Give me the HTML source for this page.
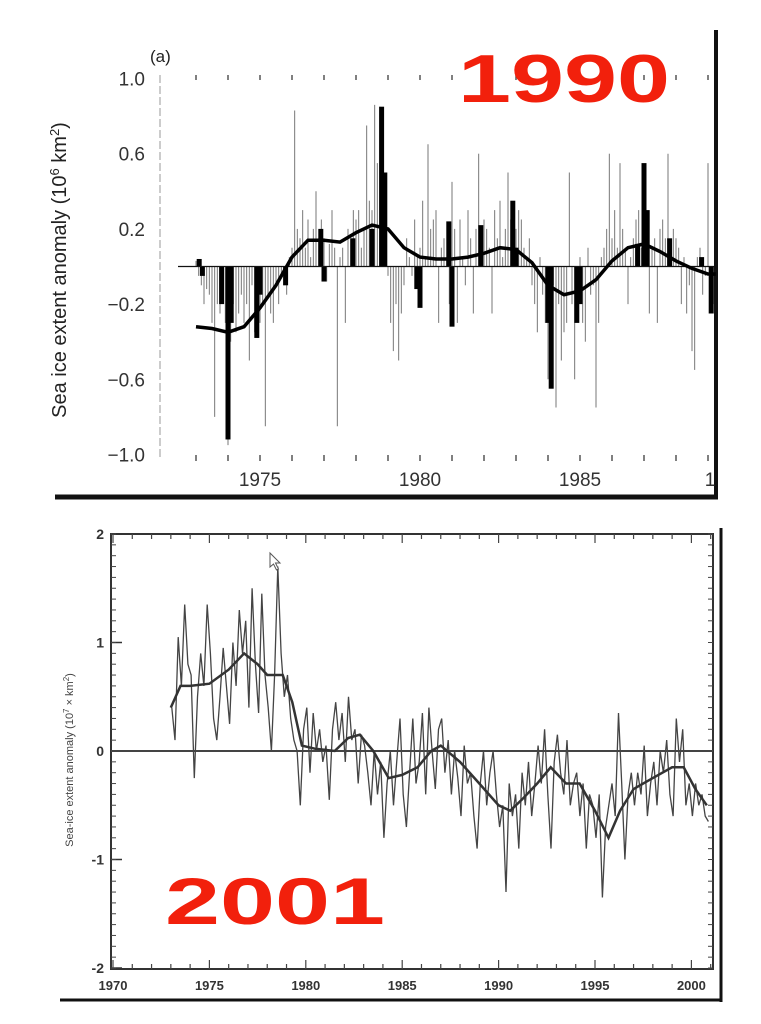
<!DOCTYPE html>
<html><head><meta charset="utf-8"><style>
body{margin:0;background:#fff}
svg{display:block}
text{font-family:"Liberation Sans",sans-serif}
</style></head><body>
<svg id="s" width="761" height="1024" viewBox="0 0 761 1024">
<rect x="0" y="0" width="761" height="1024" fill="#fff"/>
<line x1="716" y1="30" x2="716" y2="498" stroke="#111" stroke-width="4"/>
<line x1="55" y1="497" x2="718" y2="497" stroke="#111" stroke-width="5"/>
<line x1="160" y1="75" x2="160" y2="460" stroke="#999" stroke-width="1" stroke-dasharray="8,3"/>
<text x="150" y="62" font-size="17" fill="#222">(a)</text>
<text x="66" y="270" font-size="20" fill="#222" text-anchor="middle" transform="rotate(-90 66 270)">Sea ice extent anomaly (10<tspan dy="-7" font-size="13">6</tspan><tspan dy="7"> km</tspan><tspan dy="-7" font-size="13">2</tspan><tspan dy="7">)</tspan></text>
<g id="topTicks"></g>
<g id="topBars"></g>
<line x1="178" y1="266.5" x2="716" y2="266.5" stroke="#111" stroke-width="1.2"/>
<path id="topSmooth" fill="none" stroke="#000" stroke-width="3.5"/>
<text x="458" y="102" font-family="Liberation Serif,serif" font-weight="bold" font-size="68" fill="#f2200c" textLength="212" lengthAdjust="spacingAndGlyphs">1990</text>

<line x1="721" y1="528" x2="721" y2="1002" stroke="#111" stroke-width="3"/>
<line x1="60" y1="1000" x2="722" y2="1000" stroke="#111" stroke-width="3"/>
<rect x="111" y="534" width="602" height="435" fill="none" stroke="#333" stroke-width="2"/>
<g id="botTicks"></g>
<line x1="111" y1="751" x2="713" y2="751" stroke="#444" stroke-width="2"/>
<path id="botRaw" fill="none" stroke="#444" stroke-width="1.3"/>
<path id="botSmooth" fill="none" stroke="#333" stroke-width="2.5"/>
<text x="73" y="760" font-size="11" fill="#444" text-anchor="middle" transform="rotate(-90 73 760)">Sea-ice extent anomaly (10<tspan dy="-4" font-size="8">7</tspan><tspan dy="4"> × km</tspan><tspan dy="-4" font-size="8">2</tspan><tspan dy="4">)</tspan></text>
<text x="165" y="924" font-family="Liberation Serif,serif" font-weight="bold" font-size="66" fill="#f2200c" textLength="220" lengthAdjust="spacingAndGlyphs">2001</text>
<path d="M270 553 l0 14 l3.5 -3 l3 6 l2 -1 l-3 -6 l4.5 0 z" fill="#fff" stroke="#555" stroke-width="1"/>
</svg>
<script>
const topYTicks=[1.0,0.6,0.2,-0.2,-0.6,-1.0];
const topYTickLabels=["1.0","0.6","0.2","\u22120.2","\u22120.6","\u22121.0"];
const topXTicks=[1975,1980,1985,1990];
const topXTickLabels=["1975","1980","1985","1"];
const topMonthly=[
0.03,-0.05,-0.1,-0.2,-0.12,-0.15,-0.3,-0.8,-0.2,-0.25,-0.1,-0.3,
-0.95,-0.4,-0.2,-0.35,-0.25,-0.15,-0.3,-0.2,-0.5,-0.1,-0.35,-0.38,
-0.3,-0.2,-0.85,-0.15,-0.25,-0.3,-0.1,-0.2,-0.05,-0.1,-0.15,0.05,
0.1,0.83,0.2,0.15,0.3,0.1,0.25,0.05,0.2,0.4,0.15,0.25,
0.15,-0.08,0.12,0.3,0.1,-0.85,0.05,0.1,-0.3,0.2,0.15,0.3,
0.25,0.3,0.1,0.2,0.75,0.35,0.3,0.86,0.55,0.85,0.25,0.1,
-0.05,-0.3,-0.45,-0.2,-0.5,-0.25,-0.1,0.15,0.05,-0.05,0.25,0.05,
0.1,0.35,0.05,0.65,0.2,0.25,0.3,-0.3,0.1,0.15,0.05,-0.2,
0.45,0.2,-0.3,0.25,0.05,-0.1,0.3,0.15,-0.25,0.2,0.6,0.1,
0.25,0.2,0.1,-0.25,0.3,0.15,0.35,0.05,0.2,0.5,0.25,0.05,
0.2,0.3,0.25,0.1,0.05,0.15,-0.1,-0.2,-0.35,0.05,-0.15,-0.3,
-0.6,-0.3,-0.1,-0.75,-0.2,-0.5,-0.35,-0.3,0.5,-0.2,-0.6,-0.1,
0.05,-0.3,-0.4,0.1,-0.15,-0.1,-0.75,-0.3,0.05,0.1,0.2,0.6,
0.15,0.3,0.1,0.55,0.2,0.1,-0.2,0.05,0.15,0.25,0.3,0.1,
0.5,0.2,-0.25,0.1,0.15,-0.3,0.2,0.25,0.15,0.6,0.05,0.2,
0.15,0.1,-0.2,0.05,-0.25,-0.1,-0.45,-0.55,0.05,0.1,-0.15,-0.05,
0.55,-0.1,-0.2,0.25,-0.3,0.1,-0.15,-0.2,-0.3,-0.35,-0.85,-0.2];
const topThickYears=[1973.1,1973.2,1973.8,1974.0,1974.1,1974.9,1975.0,1975.8,1976.9,1977.0,1977.9,1978.5,1978.8,1978.9,1979.9,1980.0,1980.9,1981.0,1981.9,1982.9,1983.0,1984.0,1984.1,1984.9,1985.0,1986.8,1987.0,1987.1,1987.8,1988.8,1989.1];
const topThickValues=[0.04,-0.05,-0.2,-0.92,-0.3,-0.38,-0.15,-0.1,0.2,-0.08,0.15,0.2,0.85,0.5,-0.12,-0.22,0.24,-0.32,0.22,0.35,0.1,-0.3,-0.65,-0.3,-0.2,0.12,0.55,0.3,0.15,0.05,-0.25];
const topSmoothYears=[1973,1973.5,1974,1974.5,1975,1975.5,1976,1976.5,1977,1977.5,1978,1978.5,1979,1979.5,1980,1980.5,1981,1981.5,1982,1982.5,1983,1983.5,1984,1984.5,1985,1985.5,1986,1986.5,1987,1987.5,1988,1988.5,1989,1989.5,1990];
const topSmoothValues=[-0.32,-0.33,-0.35,-0.32,-0.22,-0.1,0.05,0.14,0.14,0.13,0.18,0.22,0.2,0.1,0.05,0.04,0.04,0.05,0.07,0.1,0.09,0.02,-0.1,-0.15,-0.13,-0.07,0.03,0.1,0.12,0.08,0.03,-0.01,-0.04,-0.04,-0.05];
const botYTicks=[2,1,0,-1,-2];
const botYTickLabels=["2","1","0","-1","-2"];
const botXTicks=[1970,1975,1980,1985,1990,1995,2000];
const botXTickLabels=["1970","1975","1980","1985","1990","1995","2000"];
const botRaw=[
0.4,0.1,1.05,0.6,1.35,0.8, 0.7,-0.25,0.5,0.9,0.6,1.35, 0.9,0.3,0.1,0.5,0.95,0.6,
0.25,1.0,0.6,1.3,0.9,1.2, 0.4,1.5,0.8,0.35,1.45,0.7, 0.4,0.0,0.7,1.7,0.9,0.5,
0.7,0.3,0.1,0.0,-0.5,0.2, 0.4,-0.2,0.35,0.0,0.2,-0.1, 0.05,-0.45,0.2,0.45,0.1,0.35,
-0.1,0.5,0.1,0.2,-0.3,0.15, 0.05,-0.2,-0.5,0.0,-0.4,-0.1, -0.8,-0.3,0.0,-0.5,-0.1,0.3,
-0.4,-0.7,-0.2,0.3,-0.3,-0.1, 0.35,-0.4,0.4,0.0,-0.35,0.2, 0.3,-0.2,0.1,-0.4,0.0,-0.25,
-0.6,0.05,-0.3,-0.2,-0.6,-0.9, -0.3,0.0,-0.5,-0.2,0.0,-0.4, -0.7,-0.5,-1.3,-0.3,-0.6,-0.4,
-0.9,-0.2,-0.5,-0.1,-0.6,-0.3, 0.05,-0.3,0.2,-0.4,-0.9,-0.1, 0.15,-0.2,-0.4,0.1,-0.5,-0.3,
-0.2,-0.6,-0.3,-0.9,-0.4,-0.5, -0.8,-0.4,-1.35,-0.7,-0.5,-0.3, -0.6,0.35,-0.3,-1.0,-0.4,-0.2,
-0.5,-0.2,-0.4,0.05,-0.6,-0.3, -0.1,-0.5,0.0,-0.2,0.1,-0.4, -0.6,0.3,-0.1,0.2,-0.5,-0.3,
-0.6,-0.3,-0.5,-0.4,-0.6,-0.65];
const botSmoothYears=[1973,1973.5,1974,1975,1976,1976.8,1977.5,1978,1978.8,1979.3,1979.8,1980.5,1981.5,1982.2,1982.8,1983.5,1984.3,1985,1985.8,1986.5,1987,1988,1989,1990,1990.6,1991.2,1992,1992.7,1993.5,1994.2,1995,1995.7,1996.3,1997,1998,1999,1999.6,2000.2,2000.8];
const botSmoothValues=[0.4,0.6,0.6,0.62,0.75,0.9,0.8,0.7,0.7,0.45,0.05,0.02,0.0,0.12,0.15,0.0,-0.25,-0.22,-0.15,0.0,0.05,-0.1,-0.3,-0.5,-0.55,-0.45,-0.3,-0.15,-0.3,-0.3,-0.55,-0.8,-0.55,-0.35,-0.25,-0.15,-0.15,-0.35,-0.5];

const NS="http://www.w3.org/2000/svg";
function mk(tag,attrs,parent,txt){const e=document.createElementNS(NS,tag);for(const k in attrs)e.setAttribute(k,attrs[k]);if(txt!==undefined)e.textContent=txt;parent.appendChild(e);return e;}
const tx=y=>260+(y-1975)*32;
const ty=v=>266.5-v*188;
const tt=document.getElementById('topTicks');
topYTicks.forEach((v,i)=>{
  const t=mk('text',{x:145,y:ty(v)+7,'font-size':19,fill:'#333','text-anchor':'end'},tt,topYTickLabels[i]);
  
  
});
topXTicks.forEach((v,i)=>{
  const t=mk('text',{x:Math.min(tx(v),710),y:486,'font-size':19,fill:'#333','text-anchor':'middle'},tt,topXTickLabels[i]);
  
  
});
for(let yr=1973;yr<=1989;yr++){
  const a=mk('line',{x1:tx(yr),x2:tx(yr),y1:455,y2:461,stroke:'#555','stroke-width':1.5},tt);
  
  
  const b=mk('line',{x1:tx(yr),x2:tx(yr),y1:75,y2:80,stroke:'#555','stroke-width':1.5},tt);
  
  
}
const tb=document.getElementById('topBars');
topMonthly.forEach((v,i)=>{
  const x=tx(1973+i/12);
  if(x>714)return;
  const r=mk('line',{x1:x,x2:x,y1:ty(0),y2:ty(v),stroke:'#777','stroke-width':1},tb);
  
  
});
topThickYears.forEach((yr,i)=>{
  const x=tx(yr),v=topThickValues[i];
  const r=mk('rect',{x:x-2.5,width:5,y:Math.min(ty(0),ty(v)),height:Math.abs(ty(v)-ty(0)),fill:'#000'},tb);
  
  
});
document.getElementById('topSmooth').setAttribute('d',topSmoothYears.map((yr,i)=>(i?'L':'M')+Math.min(tx(yr),714).toFixed(1)+' '+ty(topSmoothValues[i]).toFixed(1)).join(' '));
const bx=y=>113+(y-1970)*19.28;
const by=v=>751-v*108.5;
const bt=document.getElementById('botTicks');
botYTicks.forEach((v,i)=>{
  const t=mk('text',{x:104,y:by(v)+5,'font-size':14,fill:'#333','text-anchor':'end','font-weight':'bold'},bt,botYTickLabels[i]);
  
  
  const l=mk('line',{x1:111,x2:122,y1:by(v),y2:by(v),stroke:'#333','stroke-width':1.5},bt);
  
  
});
for(let k=-20;k<=20;k++){
  const v=k/10;
  const a=mk('line',{x1:111,x2:116,y1:by(v),y2:by(v),stroke:'#444','stroke-width':1},bt);
  
  
  const b=mk('line',{x1:708,x2:713,y1:by(v),y2:by(v),stroke:'#444','stroke-width':1},bt);
  
  
}
botXTicks.forEach((v,i)=>{
  const t=mk('text',{x:bx(v),y:990,'font-size':13,fill:'#333','text-anchor':'middle','font-weight':'bold'},bt,botXTickLabels[i]);
  
  
});
for(let yr=1970;yr<=2001;yr++){
  const big=yr%5===0?9:5;
  const a=mk('line',{x1:bx(yr),x2:bx(yr),y1:969-big,y2:969,stroke:'#444','stroke-width':1.2},bt);
  
  
  const b=mk('line',{x1:bx(yr),x2:bx(yr),y1:534,y2:534+big,stroke:'#444','stroke-width':1.2},bt);
  
  
}
document.getElementById('botRaw').setAttribute('d',botRaw.map((v,i)=>(i?'L':'M')+bx(1973+i/6+0.05).toFixed(1)+' '+by(v).toFixed(1)).join(' '));
document.getElementById('botSmooth').setAttribute('d',botSmoothYears.map((yr,i)=>(i?'L':'M')+bx(yr).toFixed(1)+' '+by(botSmoothValues[i]).toFixed(1)).join(' '));
</script>
</body></html>
